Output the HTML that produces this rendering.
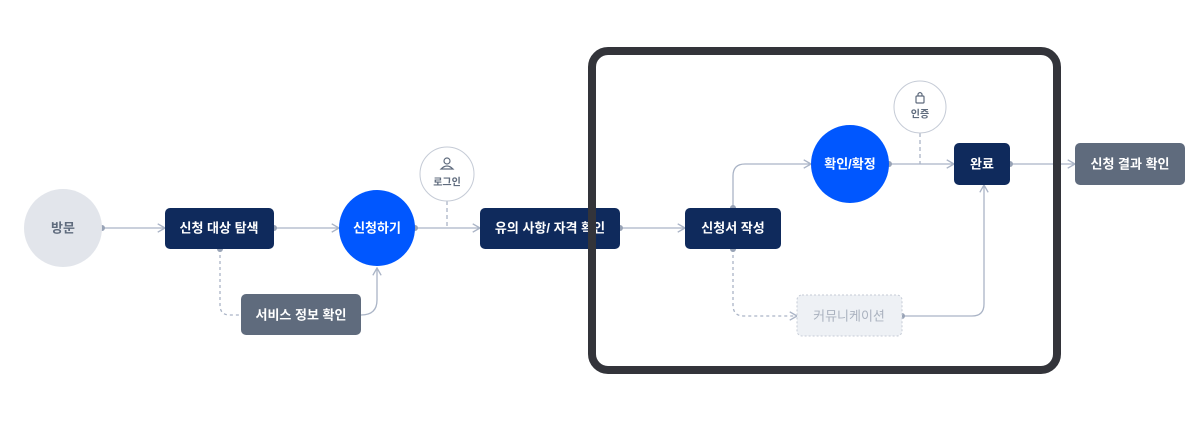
<!DOCTYPE html>
<html><head><meta charset="utf-8"><style>
body{margin:0;background:#fff;width:1200px;height:424px;overflow:hidden}
svg text{font-family:"Liberation Sans","Noto Sans CJK KR",sans-serif;font-size:13px;font-weight:bold;text-anchor:middle;dominant-baseline:central}
</style></head><body>
<svg width="1200" height="424" viewBox="0 0 1200 424">
<defs><marker id="a" viewBox="0 0 10 10" refX="9" refY="5" markerWidth="8" markerHeight="8" orient="auto"><path d="M2 1L9 5L2 9" fill="none" stroke="#aab4c6" stroke-width="1.3"/></marker></defs>
<g fill="none" stroke="#aab4c6" stroke-width="1.3">
<path d="M102 228H165" marker-end="url(#a)"/>
<path d="M274 228H339" marker-end="url(#a)"/>
<path d="M220 249V305Q220 315 230 315H241" stroke-dasharray="3 3"/>
<path d="M361 315Q377 315 377 300V268" marker-end="url(#a)"/>
<path d="M415 228H480" marker-end="url(#a)"/>
<path d="M447 201V228" stroke-dasharray="4 3"/>
<path d="M620 228H685" marker-end="url(#a)"/>
<path d="M733 208V176Q733 164 745 164H811" marker-end="url(#a)"/>
<path d="M733 249V305Q733 316 744 316H797" stroke-dasharray="3 3" marker-end="url(#a)"/>
<path d="M902 316H972Q984 316 984 304V185" marker-end="url(#a)"/>
<path d="M889 164H954" marker-end="url(#a)"/>
<path d="M920 133V164" stroke-dasharray="4 3"/>
<path d="M1010 164H1075" marker-end="url(#a)"/>
</g>
<g fill="#98a3b6"><circle cx="102" cy="228" r="3"/><circle cx="274" cy="228" r="3"/><circle cx="220" cy="249" r="3"/><circle cx="415" cy="228" r="3"/><circle cx="620" cy="228" r="3"/><circle cx="733" cy="208" r="3"/><circle cx="733" cy="249" r="3"/><circle cx="902" cy="316" r="3"/><circle cx="889" cy="164" r="3"/><circle cx="1010" cy="164" r="3"/></g>
<circle cx="63" cy="228" r="39" fill="#e2e5eb"/><text x="63" y="228" fill="#5f6b7d">방문</text>
<rect x="165" y="208" width="109" height="41" rx="5" fill="#0f2a5c"/><text x="219" y="228" fill="#fff">신청 대상 탐색</text>
<circle cx="377" cy="228" r="38" fill="#0057ff"/><text x="377" y="228" fill="#fff">신청하기</text>
<circle cx="447" cy="174" r="27" fill="#fff" stroke="#c5cbd6"/><text x="447" y="183" fill="#5f6b7d" style="font-size:10px">로그인</text>
<g fill="none" stroke="#5f6b7d" stroke-width="1.2"><circle cx="447" cy="161" r="3"/><path d="M441 169Q447 163 453 169Z"/></g>
<rect x="480" y="208" width="140" height="41" rx="5" fill="#0f2a5c"/><text x="550" y="228" fill="#fff">유의 사항/ 자격 확인</text>
<rect x="241" y="294" width="120" height="41" rx="5" fill="#5f6b7d"/><text x="301" y="315" fill="#fff">서비스 정보 확인</text>
<rect x="685" y="208" width="96" height="41" rx="5" fill="#0f2a5c"/><text x="733" y="228" fill="#fff">신청서 작성</text>
<circle cx="850" cy="164" r="39" fill="#0057ff"/><text x="850" y="164" fill="#fff">확인/확정</text>
<circle cx="920" cy="107" r="26" fill="#fff" stroke="#c5cbd6"/><text x="920" y="115" fill="#5f6b7d" style="font-size:10px">인증</text>
<g fill="none" stroke="#5f6b7d" stroke-width="1.2"><rect x="916" y="96" width="8" height="7" rx="1"/><path d="M918 96V94Q920 91 922 94V96"/></g>
<rect x="954" y="143" width="56" height="42" rx="5" fill="#0f2a5c"/><text x="982" y="164" fill="#fff">완료</text>
<rect x="1075" y="143" width="110" height="42" rx="5" fill="#5f6b7d"/><text x="1130" y="164" fill="#fff">신청 결과 확인</text>
<rect x="797" y="295" width="105" height="41" rx="5" fill="#eef1f5" stroke="#c5cbd6" stroke-dasharray="2 2"/><text x="849" y="316" fill="#aab2bf" style="font-weight:normal">커뮤니케이션</text>
<rect x="592" y="51" width="465" height="319" rx="16" fill="none" stroke="#33343a" stroke-width="8"/>
</svg>
</body></html>
